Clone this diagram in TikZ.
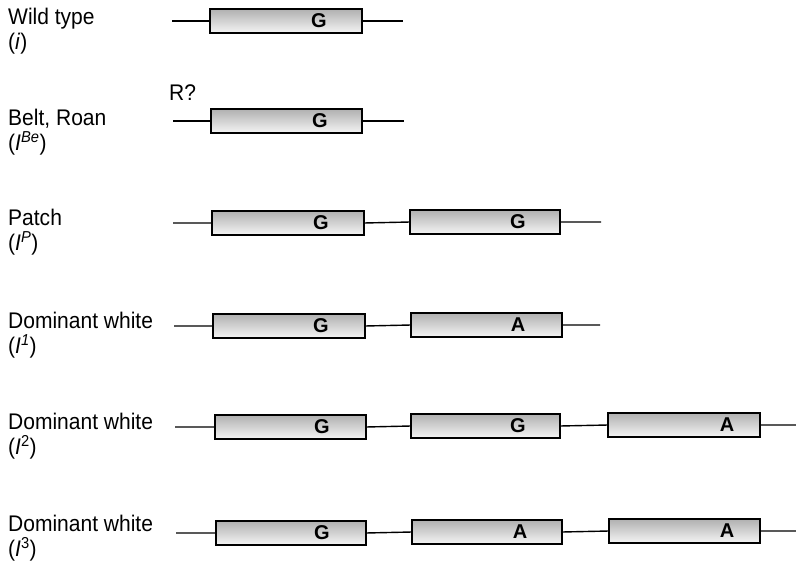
\documentclass[tikz,border=0pt]{standalone}
\usepackage{fontspec}
\setmainfont{Liberation Sans}
\newfontfamily\labfont[FakeStretch=0.93]{Liberation Sans}
\begin{document}
\begin{tikzpicture}[x=1pt,y=-1pt,
  gene/.style={draw=black, line width=1.5pt, top color=gray!62, bottom color=gray!8, minimum height=24pt, inner sep=0pt, outer sep=0pt},
  dna/.style={line width=1.4pt, black},
  letter/.style={font=\fontsize{20}{20}\selectfont\bfseries, inner sep=0pt},
  lab/.style={font=\labfont\fontsize{22.6}{24}\selectfont, anchor=base west, inner sep=0pt}]
\useasboundingbox (0,0) rectangle (796,562);
% labels
\node[lab] (l1a) at (8,24) {Wild type};
\node[lab] (l1b) at (8,49) {(\textit{i})};
\node[lab] (l2a) at (8,125) {Belt, Roan};
\node[lab] (l2b) at (8,150) {(\textit{I}\textsuperscript{\textit{Be}})};
\node[lab] (l3a) at (8,225) {Patch};
\node[lab] (l3b) at (8,250) {(\textit{I}\textsuperscript{\textit{P}})};
\node[lab] (l4a) at (8,328) {Dominant white};
\node[lab] (l4b) at (8,353) {(\textit{I}\textsuperscript{\textit{1}})};
\node[lab] (l5a) at (8,429) {Dominant white};
\node[lab] (l5b) at (8,454) {(\textit{I}\textsuperscript{2})};
\node[lab] (l6a) at (8,531) {Dominant white};
\node[lab] (l6b) at (8,556) {(\textit{I}\textsuperscript{3})};
\node[lab] (r) at (169,100) {R?};
% row 1
\coordinate (a1) at (172,21); \coordinate (z1) at (403,21);
\node[gene, minimum width=152pt] (b11) at (286,21) {};
\draw[dna] (a1) -- (b11.west) (b11.east) -- (z1);
\node[letter] (g11) at (319,21) {G};
% row 2
\coordinate (a2) at (173,121); \coordinate (z2) at (404,121);
\node[gene, minimum width=151pt] (b21) at (286.5,121) {};
\draw[dna] (a2) -- (b21.west) (b21.east) -- (z2);
\node[letter] (g21) at (320,121) {G};
% row 3
\coordinate (a3) at (173,223); \coordinate (z3) at (601,222);
\node[gene, minimum width=152pt] (b31) at (288,223) {};
\node[gene, minimum width=150pt] (b32) at (485,222) {};
\draw[dna] (a3) -- (b31.west) (b31.east) -- (b32.west) (b32.east) -- (z3);
\node[letter] (g31) at (321,223) {G};
\node[letter] (g32) at (518,222) {G};
% row 4
\coordinate (a4) at (174,326); \coordinate (z4) at (600,325);
\node[gene, minimum width=152pt] (b41) at (289,326) {};
\node[gene, minimum width=151pt] (b42) at (486.5,325) {};
\draw[dna] (a4) -- (b41.west) (b41.east) -- (b42.west) (b42.east) -- (z4);
\node[letter] (g41) at (321,326) {G};
\node[letter] (g42) at (518,325) {A};
% row 5
\coordinate (a5) at (175,427); \coordinate (z5) at (796,425);
\node[gene, minimum width=151pt] (b51) at (290.5,427) {};
\node[gene, minimum width=149pt] (b52) at (485.5,426) {};
\node[gene, minimum width=152pt] (b53) at (684,425) {};
\draw[dna] (a5) -- (b51.west) (b51.east) -- (b52.west) (b52.east) -- (b53.west) (b53.east) -- (z5);
\node[letter] (g51) at (322,427) {G};
\node[letter] (g52) at (518,426) {G};
\node[letter] (g53) at (727,425) {A};
% row 6
\coordinate (a6) at (176,533); \coordinate (z6) at (796,531);
\node[gene, minimum width=150pt] (b61) at (291,533) {};
\node[gene, minimum width=150pt] (b62) at (487,532) {};
\node[gene, minimum width=151pt] (b63) at (684.5,531) {};
\draw[dna] (a6) -- (b61.west) (b61.east) -- (b62.west) (b62.east) -- (b63.west) (b63.east) -- (z6);
\node[letter] (g61) at (322,533) {G};
\node[letter] (g62) at (520,532) {A};
\node[letter] (g63) at (727,531) {A};
\end{tikzpicture}
\end{document}
